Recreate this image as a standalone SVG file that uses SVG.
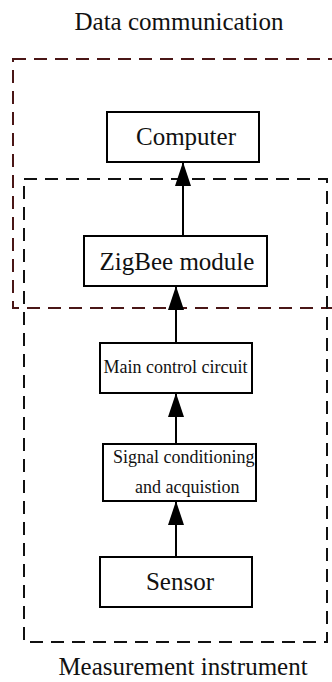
<svg xmlns="http://www.w3.org/2000/svg" width="332" height="682" viewBox="0 0 332 682">
<style>
.box{fill:#fff;stroke:#000;stroke-width:2}
.big{font-family:"Liberation Serif","Times New Roman",serif;font-size:25px;fill:#111}
.small{font-family:"Liberation Serif","Times New Roman",serif;font-size:18px;fill:#111}
.zone{fill:none;stroke-width:2;stroke-dasharray:13 8}
.conn{stroke:#000;stroke-width:2;fill:none}
</style>
<defs>
<marker id="ah" markerUnits="userSpaceOnUse" markerWidth="24" markerHeight="16" refX="24" refY="8" orient="auto">
<path d="M0,0 L24,8 L0,16 z" fill="#000"/>
</marker>
</defs>
<rect width="332" height="682" fill="#fff"/>
<g id="zones">
<rect id="zone-data" class="zone" x="13" y="59" width="330" height="249" stroke="#4a1616"/>
<rect id="zone-measure" class="zone" x="24" y="179" width="303" height="463" stroke="#111"/>
<text class="big" x="179" y="30" text-anchor="middle">Data communication</text>
<text class="big" x="183" y="675" text-anchor="middle">Measurement instrument</text>
</g>
<g id="connectors">
<line class="conn" x1="183" y1="236" x2="183" y2="162" marker-end="url(#ah)"/>
<line class="conn" x1="176" y1="343" x2="176" y2="286" marker-end="url(#ah)"/>
<line class="conn" x1="176" y1="444" x2="176" y2="393" marker-end="url(#ah)"/>
<line class="conn" x1="176" y1="557" x2="176" y2="501" marker-end="url(#ah)"/>
</g>
<g id="computer">
<rect class="box" x="107" y="112" width="152" height="50"/>
<text class="big" x="186" y="145" text-anchor="middle">Computer</text>
</g>
<g id="zigbee">
<rect class="box" x="84" y="236" width="183" height="50"/>
<text class="big" x="177" y="270" text-anchor="middle">ZigBee module</text>
</g>
<g id="main-control">
<rect class="box" x="100" y="343" width="152" height="50"/>
<text class="small" x="175.5" y="373" text-anchor="middle">Main control circuit</text>
</g>
<g id="signal">
<rect class="box" x="103" y="444" width="153" height="57"/>
<text class="small" x="113" y="463">Signal conditioning</text>
<text class="small" x="135" y="493">and acquistion</text>
</g>
<g id="sensor">
<rect class="box" x="100" y="557" width="152" height="50"/>
<text class="big" x="180" y="590" text-anchor="middle">Sensor</text>
</g>
</svg>
